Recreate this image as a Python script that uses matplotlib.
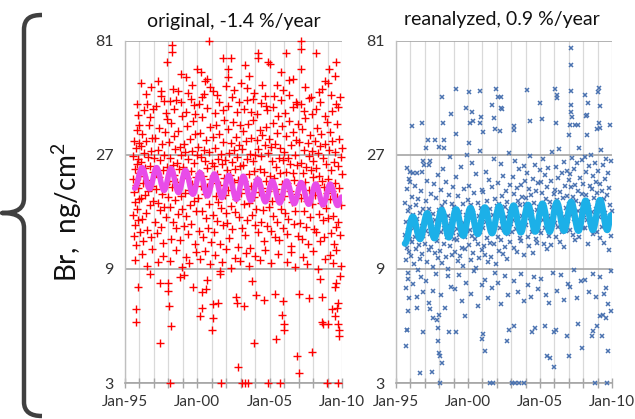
import matplotlib
matplotlib.use("Agg")
import matplotlib.pyplot as plt
from matplotlib.path import Path
from matplotlib.patches import PathPatch
from matplotlib.ticker import FixedLocator, NullFormatter

plt.rcParams['font.family'] = ['Lato', 'DejaVu Sans']
plt.rcParams['mathtext.fontset'] = 'custom'
plt.rcParams['mathtext.rm'] = 'Lato'

# ---------------- data ----------------
titles = ["original, -1.4 %/year", "reanalyzed, 0.9 %/year"]
y_ticks = [3, 9, 27, 81]
x_ticks = [1995, 2000, 2005, 2010]
x_tick_labels = ["Jan-95", "Jan-00", "Jan-05", "Jan-10"]
y_label = "Br,  ng/cm$^2$"

# original data (decimal year, Br ng/cm2)
orig_band = [
    (1995.52, 21.5), (1995.55, 15.2), (1995.57, 26.8), (1995.60, 12.4), (1995.62, 18.9), (1995.64, 31.0),
    (1995.66, 23.7), (1995.69, 13.8), (1995.71, 17.1), (1995.73, 28.9), (1995.76, 20.2), (1995.79, 11.3),
    (1995.81, 24.8), (1995.84, 16.0), (1995.86, 34.5), (1995.88, 19.6), (1995.91, 14.4), (1995.93, 26.0),
    (1995.95, 22.8), (1995.97, 30.2), (1995.99, 17.6),
    (1996.02, 22.1), (1996.05, 12.9), (1996.08, 29.5), (1996.11, 17.8), (1996.14, 25.3), (1996.17, 14.6),
    (1996.20, 33.2), (1996.24, 20.7), (1996.27, 11.8), (1996.31, 27.4), (1996.35, 18.3), (1996.38, 23.9),
    (1996.42, 15.5), (1996.46, 30.8), (1996.50, 21.2), (1996.54, 13.1), (1996.58, 26.6), (1996.62, 19.0),
    (1996.66, 36.2), (1996.70, 16.7), (1996.74, 24.4), (1996.78, 12.2), (1996.82, 28.1), (1996.86, 20.0),
    (1996.90, 31.7), (1996.94, 17.3), (1996.97, 23.0), (1996.30, 41.5), (1996.55, 44.0), (1996.75, 39.0),
    (1997.02, 26.2), (1997.05, 14.1), (1997.09, 31.9), (1997.13, 19.5), (1997.17, 22.7), (1997.21, 12.7),
    (1997.25, 28.4), (1997.29, 17.0), (1997.33, 35.0), (1997.37, 21.8), (1997.41, 15.9), (1997.45, 25.7),
    (1997.49, 13.5), (1997.53, 29.9), (1997.57, 18.6), (1997.61, 23.3), (1997.65, 11.6), (1997.69, 27.0),
    (1997.73, 16.3), (1997.77, 33.8), (1997.81, 20.4), (1997.85, 14.9), (1997.89, 24.1), (1997.93, 38.3),
    (1997.97, 18.0), (1997.15, 43.2), (1997.50, 47.8), (1997.80, 40.6),
    (1998.02, 21.0), (1998.05, 30.5), (1998.09, 16.4), (1998.13, 26.3), (1998.17, 12.0), (1998.21, 36.8),
    (1998.25, 19.8), (1998.29, 24.6), (1998.33, 14.2), (1998.37, 32.4), (1998.41, 22.3), (1998.45, 17.5),
    (1998.49, 28.6), (1998.53, 13.3), (1998.57, 25.0), (1998.61, 20.8), (1998.65, 34.1), (1998.69, 15.3),
    (1998.73, 23.5), (1998.77, 11.9), (1998.81, 29.2), (1998.85, 18.1), (1998.89, 26.9), (1998.93, 16.1),
    (1998.97, 39.5), (1998.10, 45.5), (1998.40, 42.0), (1998.65, 50.0), (1998.90, 44.8),
    (1999.02, 24.0), (1999.06, 13.6), (1999.10, 30.0), (1999.14, 18.8), (1999.18, 27.7), (1999.22, 15.0),
    (1999.26, 21.6), (1999.30, 35.6), (1999.34, 12.6), (1999.38, 25.9), (1999.42, 19.3), (1999.46, 31.4),
    (1999.50, 16.6), (1999.54, 23.1), (1999.58, 13.9), (1999.62, 28.0), (1999.66, 20.5), (1999.70, 37.4),
    (1999.74, 17.4), (1999.78, 24.9), (1999.82, 11.5), (1999.86, 32.9), (1999.90, 21.9), (1999.94, 15.7),
    (1999.98, 27.1), (1999.20, 41.0), (1999.55, 46.5), (1999.85, 39.9),
    (2000.02, 29.3), (2000.06, 17.9), (2000.10, 22.6), (2000.14, 13.0), (2000.18, 33.5), (2000.22, 20.1),
    (2000.26, 26.4), (2000.30, 15.8), (2000.34, 38.8), (2000.38, 22.0), (2000.42, 12.3), (2000.46, 28.3),
    (2000.50, 18.5), (2000.54, 25.5), (2000.58, 14.7), (2000.62, 31.1), (2000.66, 19.9), (2000.70, 23.8),
    (2000.74, 13.4), (2000.78, 27.8), (2000.82, 16.9), (2000.86, 35.3), (2000.90, 21.4), (2000.94, 11.7),
    (2000.98, 25.1), (2000.12, 44.3), (2000.45, 48.5), (2000.70, 42.5), (2000.90, 52.0),
    (2001.02, 20.6), (2001.06, 32.0), (2001.10, 15.1), (2001.14, 24.2), (2001.18, 12.8), (2001.22, 29.0),
    (2001.26, 18.2), (2001.30, 36.0), (2001.34, 22.5), (2001.38, 14.3), (2001.42, 26.1), (2001.46, 17.2),
    (2001.50, 33.0), (2001.54, 20.3), (2001.58, 11.4), (2001.62, 27.2), (2001.66, 16.2), (2001.70, 24.7),
    (2001.74, 30.6), (2001.78, 13.7), (2001.82, 21.7), (2001.86, 37.8), (2001.90, 18.4), (2001.94, 25.8),
    (2001.98, 15.4), (2001.25, 40.3), (2001.50, 45.0), (2001.80, 41.8),
    (2002.02, 23.4), (2002.06, 14.0), (2002.10, 34.8), (2002.14, 19.2), (2002.18, 27.5), (2002.22, 12.1),
    (2002.26, 22.2), (2002.30, 30.3), (2002.34, 16.5), (2002.38, 25.2), (2002.42, 13.2), (2002.46, 37.0),
    (2002.50, 20.9), (2002.54, 28.2), (2002.58, 15.6), (2002.62, 23.6), (2002.66, 32.2), (2002.70, 17.7),
    (2002.74, 26.5), (2002.78, 11.1), (2002.82, 21.3), (2002.86, 29.6), (2002.90, 14.8), (2002.94, 24.3),
    (2002.98, 35.9), (2002.15, 43.5), (2002.40, 47.0), (2002.75, 40.8),
    (2003.02, 18.7), (2003.06, 28.7), (2003.10, 13.4), (2003.14, 24.5), (2003.18, 33.9), (2003.22, 16.8),
    (2003.26, 21.1), (2003.30, 12.5), (2003.34, 30.9), (2003.38, 19.4), (2003.42, 26.0), (2003.46, 14.5),
    (2003.50, 36.5), (2003.54, 22.4), (2003.58, 17.0), (2003.62, 27.3), (2003.66, 11.0), (2003.70, 31.8),
    (2003.74, 20.0), (2003.78, 15.2), (2003.82, 25.6), (2003.86, 38.0), (2003.90, 18.0), (2003.94, 23.2),
    (2003.98, 13.8), (2003.20, 42.2), (2003.45, 45.8), (2003.70, 41.0), (2003.90, 49.0),
    (2004.02, 26.9), (2004.06, 16.0), (2004.10, 31.3), (2004.14, 21.5), (2004.18, 12.9), (2004.22, 28.5),
    (2004.26, 18.9), (2004.30, 34.3), (2004.34, 23.7), (2004.38, 14.1), (2004.42, 26.7), (2004.46, 19.7),
    (2004.50, 32.6), (2004.54, 15.9), (2004.58, 22.9), (2004.62, 11.8), (2004.66, 29.7), (2004.70, 17.6),
    (2004.74, 35.2), (2004.78, 21.0), (2004.82, 13.6), (2004.86, 27.6), (2004.90, 19.1), (2004.94, 31.5),
    (2004.98, 16.4), (2004.10, 40.0), (2004.40, 44.5), (2004.65, 47.5), (2004.85, 41.5),
    (2005.02, 22.0), (2005.06, 13.0), (2005.10, 29.1), (2005.14, 17.3), (2005.18, 25.4), (2005.22, 36.9),
    (2005.26, 15.0), (2005.30, 21.7), (2005.34, 12.3), (2005.38, 30.1), (2005.42, 19.5), (2005.46, 24.0),
    (2005.50, 14.2), (2005.54, 33.3), (2005.58, 18.5), (2005.62, 26.3), (2005.66, 11.9), (2005.70, 22.6),
    (2005.74, 28.8), (2005.78, 16.1), (2005.82, 35.7), (2005.86, 20.4), (2005.90, 13.3), (2005.94, 25.7),
    (2005.98, 18.2), (2005.25, 43.0), (2005.55, 39.2), (2005.80, 46.0),
    (2006.02, 27.9), (2006.06, 15.4), (2006.10, 23.0), (2006.14, 32.5), (2006.18, 12.6), (2006.22, 20.6),
    (2006.26, 26.2), (2006.30, 14.6), (2006.34, 37.5), (2006.38, 19.0), (2006.42, 24.8), (2006.46, 11.2),
    (2006.50, 29.8), (2006.54, 17.1), (2006.58, 22.7), (2006.62, 33.6), (2006.66, 13.9), (2006.70, 21.2),
    (2006.74, 27.1), (2006.78, 15.8), (2006.82, 31.2), (2006.86, 18.6), (2006.90, 24.5), (2006.94, 12.4),
    (2006.98, 36.3), (2006.05, 40.5), (2006.35, 48.0), (2006.60, 42.8), (2006.85, 45.0),
    (2007.02, 20.3), (2007.06, 30.7), (2007.10, 14.0), (2007.14, 25.0), (2007.18, 17.9), (2007.22, 34.6),
    (2007.26, 12.0), (2007.30, 22.8), (2007.34, 28.3), (2007.38, 15.7), (2007.42, 20.9), (2007.46, 38.6),
    (2007.50, 13.5), (2007.54, 24.0), (2007.58, 17.4), (2007.62, 30.4), (2007.66, 11.5), (2007.70, 26.8),
    (2007.74, 19.3), (2007.78, 32.8), (2007.82, 14.8), (2007.86, 23.4), (2007.90, 28.0), (2007.94, 16.9),
    (2007.98, 21.8), (2007.15, 44.0), (2007.40, 41.2), (2007.70, 46.8), (2007.90, 40.0),
    (2008.02, 25.6), (2008.06, 13.2), (2008.10, 31.0), (2008.14, 18.3), (2008.18, 23.9), (2008.22, 12.9),
    (2008.26, 35.0), (2008.30, 20.2), (2008.34, 27.5), (2008.38, 15.3), (2008.42, 22.1), (2008.46, 11.8),
    (2008.50, 29.4), (2008.54, 17.0), (2008.58, 33.1), (2008.62, 21.0), (2008.66, 14.4), (2008.70, 26.2),
    (2008.74, 12.2), (2008.78, 19.8), (2008.82, 30.0), (2008.86, 16.2), (2008.90, 24.7), (2008.94, 37.2),
    (2008.98, 18.8), (2008.20, 42.0), (2008.50, 45.2), (2008.80, 39.5),
    (2009.02, 21.4), (2009.06, 14.7), (2009.10, 28.4), (2009.14, 17.7), (2009.18, 33.7), (2009.22, 12.7),
    (2009.26, 23.3), (2009.30, 19.1), (2009.34, 30.8), (2009.38, 15.0), (2009.42, 25.2), (2009.46, 11.4),
    (2009.50, 20.7), (2009.54, 27.8), (2009.58, 13.5), (2009.62, 36.4), (2009.66, 18.0), (2009.70, 24.2),
    (2009.74, 14.1), (2009.78, 31.6), (2009.82, 19.6), (2009.86, 12.5), (2009.90, 26.4), (2009.94, 16.6),
    (2009.97, 22.5), (2009.99, 29.0), (2009.30, 41.3), (2009.60, 44.2), (2009.85, 47.3),
]
orig_high = [
    (2000.78, 81), (1998.25, 78), (1998.27, 73), (1996.10, 54), (1996.80, 52), (1998.30, 51),
    (1998.85, 59), (1999.20, 57), (2000.00, 62), (2000.25, 60), (2001.80, 69), (2002.30, 69),
    (2002.10, 62), (2002.12, 57), (2007.16, 81), (2007.18, 75), (2004.20, 72), (2004.22, 69),
    (2006.10, 72), (2008.20, 72), (2005.00, 65), (2007.20, 62), (2009.10, 62), (2009.00, 54),
    (1995.90, 39.6), (1996.00, 36.0), (1997.50, 50), (1999.60, 53), (2000.50, 55), (2001.10, 50),
    (2003.00, 54), (2003.60, 58), (2005.50, 53), (2006.60, 56), (2008.60, 51), (2009.50, 58),
    (2003.30, 64), (1997.90, 66), (2005.80, 60), (2009.60, 66), (2004.90, 66),
    (1995.80, 44.0), (1996.45, 48.5), (1996.95, 42.0), (1997.30, 55.0), (1997.70, 45.3), (1998.55, 46.0),
    (1999.35, 49.0), (1999.75, 43.8), (2000.35, 47.0), (2000.65, 56.0), (2001.35, 48.0), (2001.95, 52.5),
    (2002.55, 50.5), (2002.85, 44.8), (2003.45, 51.5), (2003.85, 46.5), (2004.45, 53.0), (2004.75, 43.2),
    (2005.30, 47.8), (2005.95, 50.5), (2006.35, 55.5), (2006.90, 44.2), (2007.45, 52.0), (2007.85, 47.0),
    (2008.40, 49.5), (2008.80, 55.0), (2009.25, 48.0), (2009.70, 43.0),
]
orig_low = [
    (1995.75, 6.1), (1995.76, 5.4), (1995.90, 7.6), (1996.70, 8.6), (1997.40, 7.9), (1997.97, 7.9),
    (1997.99, 7.3), (1998.04, 6.3), (1998.20, 5.2), (1997.40, 4.4), (1998.80, 8.3), (1999.70, 7.6),
    (2000.30, 7.2), (2000.60, 7.4), (2000.32, 6.2), (2000.20, 5.7), (2000.70, 8.1), (2001.10, 6.4),
    (2001.40, 6.5), (2001.05, 5.6), (2001.00, 5.0), (2001.55, 8.8), (2001.60, 8.6), (2002.80, 3.5),
    (2003.90, 4.4), (2003.20, 6.3), (2002.70, 6.9), (2002.72, 6.5), (2004.05, 7.0), (2004.60, 6.7),
    (2005.40, 7.1), (2005.90, 6.6), (2005.88, 5.8), (2006.00, 5.3), (2006.02, 5.0), (2005.42, 4.6),
    (2006.90, 3.9), (2007.00, 3.3), (2007.90, 4.05), (2007.00, 7.1), (2007.70, 6.8), (2008.65, 6.9),
    (2008.60, 5.4), (2008.66, 5.3), (2009.05, 5.3), (2009.30, 6.1), (2009.50, 5.7), (2009.75, 6.5),
    (2009.65, 6.2), (2009.76, 5.0), (2009.78, 4.7), (2009.50, 7.6), (2009.70, 5.3),
    (1995.70, 9.8), (1996.20, 10.4), (1996.50, 9.3), (1996.90, 10.9), (1997.30, 9.6), (1997.60, 10.2),
    (1998.10, 9.7), (1998.50, 10.8), (1998.95, 9.2), (1999.20, 10.1), (1999.45, 9.5), (1999.90, 10.6),
    (2000.15, 9.9), (2000.50, 10.7), (2000.85, 9.4), (2001.25, 10.3), (2001.70, 9.6), (2002.00, 10.9),
    (2002.30, 9.1), (2002.60, 10.0), (2002.95, 9.7), (2003.35, 10.5), (2003.60, 9.3), (2004.00, 10.2),
    (2004.30, 9.8), (2004.70, 10.8), (2005.10, 9.5), (2005.60, 10.4), (2006.20, 9.6), (2006.45, 10.6),
    (2006.75, 9.2), (2007.30, 10.1), (2007.55, 9.4), (2008.00, 10.7), (2008.35, 9.0), (2008.85, 9.9),
    (2009.15, 10.3), (2009.40, 9.5), (2009.60, 10.8), (2009.90, 9.3), (2009.85, 8.4), (2009.60, 7.9),
    (2008.50, 8.2), (2003.75, 8.0), (1999.05, 8.5),
    (1998.10, 3.0), (2001.65, 3.0), (2003.06, 3.0), (2003.29, 3.0), (2003.52, 3.0), (2004.90, 3.0),
    (2005.70, 3.0), (2008.93, 3.0), (2009.74, 3.0),
]

# reanalyzed data (decimal year, Br ng/cm2)
rean_band = [
    (1995.62, 12.5), (1995.65, 17.0), (1995.68, 9.8), (1995.71, 14.2), (1995.74, 11.0), (1995.77, 19.5),
    (1995.80, 13.1), (1995.83, 8.7), (1995.86, 15.8), (1995.89, 10.6), (1995.92, 21.5), (1995.95, 12.0),
    (1995.98, 16.4), (1995.70, 7.5), (1995.80, 8.2), (1995.90, 6.8),
    (1996.02, 13.8), (1996.06, 10.2), (1996.10, 18.0), (1996.14, 11.7), (1996.18, 15.1), (1996.22, 9.4),
    (1996.26, 13.3), (1996.30, 20.1), (1996.34, 12.2), (1996.38, 16.7), (1996.42, 10.9), (1996.46, 14.6),
    (1996.50, 8.9), (1996.54, 17.6), (1996.58, 12.8), (1996.62, 11.3), (1996.66, 15.5), (1996.70, 9.9),
    (1996.74, 19.0), (1996.78, 13.6), (1996.82, 10.4), (1996.86, 16.1), (1996.90, 12.4), (1996.94, 24.5),
    (1996.98, 14.0), (1996.20, 7.8), (1996.45, 6.9), (1996.75, 8.3), (1996.90, 7.2),
    (1997.02, 11.5), (1997.06, 17.3), (1997.10, 13.0), (1997.14, 9.6), (1997.18, 21.0), (1997.22, 14.8),
    (1997.26, 10.8), (1997.30, 16.0), (1997.34, 12.6), (1997.38, 25.5), (1997.42, 11.1), (1997.46, 18.5),
    (1997.50, 13.9), (1997.54, 9.2), (1997.58, 15.3), (1997.62, 12.1), (1997.66, 20.5), (1997.70, 10.5),
    (1997.74, 14.4), (1997.78, 17.9), (1997.82, 11.8), (1997.86, 13.5), (1997.90, 22.3), (1997.94, 10.0),
    (1997.98, 15.9), (1997.10, 8.0), (1997.30, 6.5), (1997.55, 7.3), (1997.80, 8.6),
    (1998.02, 14.1), (1998.06, 10.7), (1998.10, 19.2), (1998.14, 12.9), (1998.18, 16.5), (1998.22, 9.5),
    (1998.26, 23.5), (1998.30, 13.4), (1998.34, 11.4), (1998.38, 17.2), (1998.42, 14.9), (1998.46, 10.1),
    (1998.50, 20.8), (1998.54, 12.3), (1998.58, 15.0), (1998.62, 9.0), (1998.66, 13.7), (1998.70, 18.3),
    (1998.74, 11.2), (1998.78, 26.5), (1998.82, 14.3), (1998.86, 10.3), (1998.90, 16.8), (1998.94, 12.7),
    (1998.98, 19.8), (1998.15, 7.0), (1998.40, 6.2), (1998.60, 8.4), (1998.85, 7.6),
    (1999.02, 12.0), (1999.06, 16.3), (1999.10, 10.6), (1999.14, 14.7), (1999.18, 21.8), (1999.22, 11.9),
    (1999.26, 13.2), (1999.30, 9.7), (1999.34, 18.1), (1999.38, 12.5), (1999.42, 15.6), (1999.46, 10.2),
    (1999.50, 24.0), (1999.54, 13.6), (1999.58, 11.0), (1999.62, 16.9), (1999.66, 9.3), (1999.70, 14.0),
    (1999.74, 19.4), (1999.78, 12.2), (1999.82, 10.9), (1999.86, 15.2), (1999.90, 27.0), (1999.94, 13.0),
    (1999.98, 17.5), (1999.10, 7.4), (1999.35, 8.5), (1999.60, 6.6), (1999.85, 7.9),
    (2000.02, 14.5), (2000.06, 11.3), (2000.10, 20.0), (2000.14, 13.1), (2000.18, 9.8), (2000.22, 16.6),
    (2000.26, 12.4), (2000.30, 25.0), (2000.34, 10.5), (2000.38, 15.4), (2000.42, 18.7), (2000.46, 12.0),
    (2000.50, 14.1), (2000.54, 9.1), (2000.58, 22.5), (2000.62, 13.5), (2000.66, 11.5), (2000.70, 17.0),
    (2000.74, 10.0), (2000.78, 15.0), (2000.82, 28.0), (2000.86, 12.9), (2000.90, 16.2), (2000.94, 10.8),
    (2000.98, 19.2), (2000.20, 7.1), (2000.45, 8.8), (2000.70, 6.3), (2000.95, 7.7),
    (2001.02, 13.3), (2001.06, 18.9), (2001.10, 11.2), (2001.14, 15.9), (2001.18, 10.3), (2001.22, 23.0),
    (2001.26, 14.2), (2001.30, 12.1), (2001.34, 17.4), (2001.38, 9.6), (2001.42, 14.8), (2001.46, 21.2),
    (2001.50, 11.6), (2001.54, 16.0), (2001.58, 13.0), (2001.62, 10.1), (2001.66, 19.9), (2001.70, 12.7),
    (2001.74, 15.1), (2001.78, 26.0), (2001.82, 11.4), (2001.86, 17.7), (2001.90, 13.8), (2001.94, 9.4),
    (2001.98, 16.5), (2001.15, 8.1), (2001.40, 6.8), (2001.65, 7.5), (2001.90, 8.7),
    (2002.02, 15.2), (2002.06, 12.3), (2002.10, 20.6), (2002.14, 10.7), (2002.18, 16.8), (2002.22, 13.4),
    (2002.26, 24.8), (2002.30, 11.9), (2002.34, 18.2), (2002.38, 14.3), (2002.42, 10.4), (2002.46, 22.0),
    (2002.50, 13.1), (2002.54, 16.3), (2002.58, 11.1), (2002.62, 19.0), (2002.66, 14.9), (2002.70, 9.9),
    (2002.74, 17.1), (2002.78, 12.6), (2002.82, 27.5), (2002.86, 15.7), (2002.90, 11.7), (2002.94, 20.3),
    (2002.98, 13.9), (2002.10, 7.9), (2002.30, 6.4), (2002.55, 8.4), (2002.80, 7.0),
    (2003.02, 16.0), (2003.06, 12.8), (2003.10, 21.9), (2003.14, 14.5), (2003.18, 18.6), (2003.22, 11.0),
    (2003.26, 25.6), (2003.30, 15.3), (2003.34, 13.2), (2003.38, 19.6), (2003.42, 10.6), (2003.46, 17.3),
    (2003.50, 14.0), (2003.54, 23.6), (2003.58, 12.1), (2003.62, 16.7), (2003.66, 20.2), (2003.70, 11.8),
    (2003.74, 15.0), (2003.78, 18.0), (2003.82, 13.6), (2003.86, 24.2), (2003.90, 10.3), (2003.94, 16.9),
    (2003.98, 21.0), (2003.20, 8.0), (2003.45, 7.2), (2003.70, 8.6), (2003.90, 6.6),
    (2004.02, 17.8), (2004.06, 13.7), (2004.10, 22.8), (2004.14, 12.3), (2004.18, 16.1), (2004.22, 19.5),
    (2004.26, 11.2), (2004.30, 26.8), (2004.34, 14.7), (2004.38, 18.4), (2004.42, 12.9), (2004.46, 15.6),
    (2004.50, 21.5), (2004.54, 10.5), (2004.58, 17.0), (2004.62, 14.1), (2004.66, 24.6), (2004.70, 12.0),
    (2004.74, 19.1), (2004.78, 15.9), (2004.82, 11.6), (2004.86, 20.7), (2004.90, 16.4), (2004.94, 13.0),
    (2004.98, 23.3), (2004.15, 7.7), (2004.35, 6.9), (2004.60, 8.3), (2004.85, 7.4),
    (2005.02, 15.4), (2005.06, 20.9), (2005.10, 12.7), (2005.14, 18.8), (2005.18, 14.4), (2005.22, 25.9),
    (2005.26, 11.5), (2005.30, 16.6), (2005.34, 22.2), (2005.38, 13.3), (2005.42, 17.7), (2005.46, 10.9),
    (2005.50, 19.9), (2005.54, 15.0), (2005.58, 23.9), (2005.62, 12.4), (2005.66, 17.2), (2005.70, 14.6),
    (2005.74, 21.1), (2005.78, 11.3), (2005.82, 16.3), (2005.86, 27.8), (2005.90, 13.8), (2005.94, 18.5),
    (2005.98, 15.7), (2005.10, 8.2), (2005.40, 7.0), (2005.65, 6.5), (2005.90, 8.7),
    (2006.02, 19.3), (2006.06, 14.0), (2006.10, 24.0), (2006.14, 12.2), (2006.18, 17.5), (2006.22, 21.7),
    (2006.26, 13.5), (2006.30, 16.0), (2006.34, 28.5), (2006.38, 11.7), (2006.42, 18.9), (2006.46, 15.3),
    (2006.50, 22.7), (2006.54, 12.8), (2006.58, 17.9), (2006.62, 14.8), (2006.66, 25.3), (2006.70, 11.1),
    (2006.74, 20.0), (2006.78, 16.2), (2006.82, 13.0), (2006.86, 23.1), (2006.90, 18.2), (2006.94, 14.3),
    (2006.98, 21.3), (2006.20, 7.3), (2006.45, 8.5), (2006.70, 6.7), (2006.95, 7.8),
    (2007.02, 16.8), (2007.06, 22.4), (2007.10, 13.1), (2007.14, 19.8), (2007.18, 15.2), (2007.22, 26.2),
    (2007.26, 12.5), (2007.30, 18.0), (2007.34, 23.5), (2007.38, 14.6), (2007.42, 20.3), (2007.46, 11.9),
    (2007.50, 17.3), (2007.54, 24.9), (2007.58, 13.9), (2007.62, 19.1), (2007.66, 15.8), (2007.70, 29.0),
    (2007.74, 12.3), (2007.78, 21.6), (2007.82, 16.9), (2007.86, 14.2), (2007.90, 25.7), (2007.94, 18.6),
    (2007.98, 13.4), (2007.10, 7.6), (2007.35, 8.9), (2007.55, 6.8), (2007.85, 8.0),
    (2008.02, 20.5), (2008.06, 15.1), (2008.10, 26.5), (2008.14, 13.3), (2008.18, 18.4), (2008.22, 22.9),
    (2008.26, 14.5), (2008.30, 17.2), (2008.34, 11.4), (2008.38, 24.3), (2008.42, 16.4), (2008.46, 20.1),
    (2008.50, 13.7), (2008.54, 27.1), (2008.58, 15.6), (2008.62, 19.4), (2008.66, 12.6), (2008.70, 22.1),
    (2008.74, 17.8), (2008.78, 14.0), (2008.82, 25.1), (2008.86, 16.0), (2008.90, 20.8), (2008.94, 12.9),
    (2008.98, 18.7), (2008.15, 8.1), (2008.40, 7.2), (2008.65, 8.6), (2008.90, 6.9),
    (2009.02, 17.0), (2009.06, 23.2), (2009.10, 14.9), (2009.14, 20.4), (2009.18, 12.1), (2009.22, 28.2),
    (2009.26, 16.1), (2009.30, 19.0), (2009.34, 13.5), (2009.38, 24.5), (2009.42, 17.6), (2009.46, 11.6),
    (2009.50, 21.4), (2009.54, 15.4), (2009.58, 26.0), (2009.62, 13.2), (2009.66, 18.3), (2009.70, 22.6),
    (2009.74, 14.7), (2009.78, 10.8), (2009.82, 19.7), (2009.86, 16.7), (2009.90, 25.4), (2009.94, 12.4),
    (2009.98, 15.8), (2009.20, 8.3), (2009.45, 7.1), (2009.70, 6.4), (2009.90, 8.8), (2009.60, 7.5),
    (2009.95, 6.0),
]
rean_high = [
    (1999.20, 51), (2000.10, 49.5), (2000.80, 50), (2001.96, 51), (2002.07, 47), (1998.16, 47),
    (1998.80, 40), (1998.27, 36.6), (1999.88, 42.6), (2000.30, 40.8), (2000.34, 37.5), (2000.16, 36.6),
    (2000.90, 39), (2000.85, 36.6), (2001.03, 33.6), (2001.70, 43.8), (2002.30, 42.6), (2001.84, 38.6),
    (2001.90, 34.7), (2002.20, 34), (1996.08, 35.8), (1996.82, 36.6), (1999.20, 32.9), (2000.10, 30.2),
    (1997.23, 31.3), (1997.70, 31.3), (1998.30, 31.3), (1998.00, 29.3), (1998.32, 28.9), (1997.10, 28.9),
    (1996.90, 25.5), (1997.30, 24.5), (1995.78, 23.8), (1995.97, 23.0), (1996.20, 22.8), (1996.43, 22.8),
    (1996.78, 23.0), (1996.00, 20.9),
    (2007.16, 76), (2007.17, 64), (2006.06, 51), (2006.17, 48), (2006.18, 46.6), (2007.15, 50),
    (2007.18, 43.8), (2007.16, 41), (2007.20, 39), (2008.10, 48), (2008.30, 44.5), (2008.20, 39.5),
    (2009.12, 51.7), (2009.05, 49.5), (2009.17, 43.5), (2009.13, 36.6), (2009.18, 34.9), (2008.98, 34.7),
    (2004.10, 50.5), (2004.97, 44.5), (2005.14, 38.2), (2004.28, 37.5), (2003.18, 35.8), (2003.20, 34.3),
    (2002.26, 47), (2002.37, 42), (2006.13, 36.6), (2007.10, 36), (2007.44, 36), (2007.67, 36),
    (2009.86, 36), (2007.00, 32.8), (2008.25, 32.8), (2008.26, 39.6),
]
rean_low = [
    (1995.74, 5.0), (1995.76, 5.0), (1995.70, 4.3), (1996.66, 3.3), (1997.47, 3.35), (1996.90, 4.9),
    (1997.90, 4.5), (1997.99, 4.0), (1998.04, 3.88), (1998.20, 3.65), (1997.92, 5.1), (1998.70, 4.9),
    (1999.20, 4.9), (1999.77, 5.7), (2001.03, 4.8), (2001.00, 4.6), (2001.15, 4.1), (1997.60, 5.6),
    (1997.88, 5.5), (1998.00, 5.8), (1997.35, 6.1), (1996.43, 6.2), (1995.85, 6.0),
    (2002.70, 4.5), (2002.83, 5.0), (2003.18, 5.2), (2004.45, 4.9), (2004.68, 5.1), (2005.48, 3.9),
    (2005.71, 3.8), (2005.94, 3.5), (2005.37, 5.2), (2005.95, 4.9), (2006.13, 5.0), (2006.87, 4.7),
    (2006.98, 3.9), (2007.90, 4.2), (2007.67, 5.3), (2008.59, 4.7), (2008.94, 5.2), (2008.70, 4.95),
    (2009.28, 4.7), (2009.74, 4.1), (2009.20, 5.7), (2009.40, 5.8), (2009.60, 5.6),
    (1998.04, 3.0), (2001.50, 3.0), (2001.72, 3.0), (2003.07, 3.0), (2003.29, 3.0), (2003.52, 3.0),
    (2003.87, 3.0), (2008.82, 3.0), (2009.63, 3.0),
]

# seasonal fit curves: successive extrema (decimal year, Br)
orig_fit_t = [1995.67, 1996.18, 1996.70, 1997.18, 1997.70, 1998.18, 1998.70, 1999.18, 1999.70,
              2000.18, 2000.70, 2001.18, 2001.70, 2002.18, 2002.70, 2003.18, 2003.70, 2004.18,
              2004.70, 2005.18, 2005.70, 2006.18, 2006.70, 2007.18, 2007.70, 2008.18, 2008.70,
              2009.18, 2009.70, 2009.97]
orig_fit_v = [19.6, 23.9, 19.5, 23.9, 19.2, 23.7, 18.8, 23.3, 18.5,
              22.8, 18.2, 22.5, 17.9, 22.2, 17.6, 22.0, 17.4, 21.4,
              17.2, 21.0, 17.0, 21.0, 16.9, 20.7, 16.8, 20.4, 16.7,
              20.4, 16.6, 18.0]
rean_fit_t = [1995.62, 1996.17, 1996.67, 1997.17, 1997.67, 1998.17, 1998.67, 1999.17, 1999.67,
              2000.17, 2000.67, 2001.17, 2001.67, 2002.17, 2002.67, 2003.17, 2003.67, 2004.17,
              2004.67, 2005.17, 2005.67, 2006.17, 2006.67, 2007.17, 2007.67, 2008.17, 2008.67,
              2009.17, 2009.67, 2009.92]
rean_fit_v = [11.5, 14.9, 12.0, 15.4, 12.1, 15.9, 12.2, 16.0, 12.4,
              16.2, 12.6, 16.3, 12.7, 16.5, 12.8, 16.6, 12.8, 16.7,
              12.9, 16.9, 12.9, 17.1, 13.0, 17.2, 13.0, 17.4, 13.1,
              17.5, 13.1, 15.1]

# ---------------- drawing ----------------
W, H = 635, 419
fig = plt.figure(figsize=(W / 100, H / 100), dpi=100)
fig.patch.set_facecolor('white')

def px_rect(x0, y0, x1, y1):
    return [x0 / W, 1 - y1 / H, (x1 - x0) / W, (y1 - y0) / H]

ax1 = fig.add_axes(px_rect(125, 41, 342, 383))
ax2 = fig.add_axes(px_rect(396, 41, 612, 383))

def smooth_path(ts, vs):
    verts = [(ts[0], vs[0])]
    codes = [Path.MOVETO]
    k = 0.36
    for i in range(1, len(ts)):
        x0, y0 = ts[i - 1], vs[i - 1]
        x1, y1 = ts[i], vs[i]
        dx = x1 - x0
        verts += [(x0 + k * dx, y0), (x1 - k * dx, y1), (x1, y1)]
        codes += [Path.CURVE4] * 3
    return Path(verts, codes)

def style_axis(ax):
    ax.set_yscale('log')
    ax.set_ylim(3, 81)
    ax.set_xlim(1995, 2010)
    ax.yaxis.set_major_locator(FixedLocator(y_ticks))
    ax.yaxis.set_minor_locator(FixedLocator([]))
    ax.set_yticklabels([str(t) for t in y_ticks])
    ax.xaxis.set_major_locator(FixedLocator(x_ticks))
    ax.set_xticklabels(x_tick_labels)
    ax.xaxis.set_minor_locator(FixedLocator(list(range(1996, 2010))))
    ax.xaxis.set_minor_formatter(NullFormatter())
    ax.grid(True, axis='x', which='both', color='#D9D9D9', lw=0.9, zorder=0)
    ax.grid(True, axis='y', which='major', color='#A6A6A6', lw=1.2, zorder=0)
    ax.set_axisbelow(True)
    for s in ['top', 'right']:
        ax.spines[s].set_visible(False)
    ax.spines['left'].set_color('#BFBFBF')
    ax.spines['bottom'].set_color('#A6A6A6')
    ax.spines['left'].set_linewidth(1.0)
    ax.spines['bottom'].set_linewidth(1.2)
    ax.tick_params(axis='y', which='both', length=0, pad=8, labelsize=11.5, labelcolor='#333333')
    ax.tick_params(axis='x', which='both', direction='inout', length=7, width=1.0,
                   color='#A6A6A6', pad=5, labelsize=11, labelcolor='#333333')

for ax in (ax1, ax2):
    style_axis(ax)

def unzip(pts):
    return [p[0] for p in pts], [p[1] for p in pts]

for pts in (orig_band, orig_high, orig_low):
    xs, ys = unzip(pts)
    ax1.plot(xs, ys, linestyle='none', marker='+', markersize=5.5, markeredgewidth=1.0,
             color='#FF0000', clip_on=False, zorder=3)
for pts in (rean_band, rean_high, rean_low):
    xs, ys = unzip(pts)
    ax2.plot(xs, ys, linestyle='none', marker='x', markersize=3.3, markeredgewidth=1.1,
             color='#4A72B0', clip_on=False, zorder=3)

ax1.add_patch(PathPatch(smooth_path(orig_fit_t, orig_fit_v), fill=False, edgecolor='#E84CE8',
                        lw=4.0, capstyle='round', joinstyle='round', zorder=4))
ax2.add_patch(PathPatch(smooth_path(rean_fit_t, rean_fit_v), fill=False, edgecolor='#1CB0E8',
                        lw=4.6, capstyle='round', joinstyle='round', zorder=4))

fig.text(233.5 / W, 1 - 21 / H, titles[0], ha='center', va='center', fontsize=14, color='#111111')
fig.text(502 / W, 1 - 19 / H, titles[1], ha='center', va='center', fontsize=14, color='#111111')

fig.text(67 / W, 1 - 212 / H, y_label, rotation=90, ha='center', va='center', fontsize=20,
         color='#111111')

# curly brace decoration (pixel coordinates -> figure fraction)
brace_px = [(42, 15), (31, 15), (24, 18), (24, 30), (24, 198), (24, 208), (18, 213), (2, 213),
            (18, 213), (24, 218), (24, 228), (24, 402), (24, 412), (31, 416), (42, 416)]
brace_codes = [Path.MOVETO, Path.CURVE4, Path.CURVE4, Path.CURVE4, Path.LINETO,
               Path.CURVE4, Path.CURVE4, Path.CURVE4, Path.CURVE4, Path.CURVE4, Path.CURVE4,
               Path.LINETO, Path.CURVE4, Path.CURVE4, Path.CURVE4]
brace = Path([(x / W, 1 - y / H) for x, y in brace_px], brace_codes)
fig.patches.append(PathPatch(brace, transform=fig.transFigure, fill=False, edgecolor='#404040',
                             lw=3.2, capstyle='butt', joinstyle='round'))

fig.savefig('out.png', dpi=100, facecolor='white')
